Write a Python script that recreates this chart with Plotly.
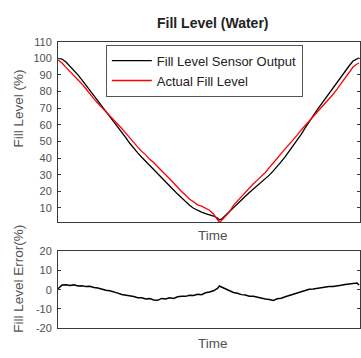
import plotly.graph_objects as go

# ---------------- data ----------------
time = list(range(0, 161, 4)) + [162] + list(range(164, 301, 4)) + [302]

sensor_output = [
    100.0, 99.6, 97.8, 95.3, 92.8, 90.1, 87.1, 84.0, 80.7, 77.4,
    74.3, 71.2, 68.1, 64.9, 61.7, 58.7, 55.6, 52.3, 48.9, 45.7,
    43.1, 40.5, 38.1, 35.7, 33.4, 31.0, 28.5, 26.0, 23.4, 20.8,
    18.3, 15.9, 13.6, 11.6, 9.8, 8.4, 7.4, 6.6, 5.9, 5.1, 3.9,
    2.8,
    3.2, 5.6, 8.0, 10.4, 12.6, 14.8, 17.0, 19.2, 21.3, 23.4,
    25.4, 27.4, 29.7, 32.3, 34.9, 37.8, 40.8, 44.0, 47.4, 50.8,
    54.3, 58.2, 62.0, 65.6, 69.0, 72.3, 75.7, 79.0, 82.3, 85.6,
    88.9, 92.2, 95.4, 98.4, 100.0,
    100.3,
]

actual_level = [
    99.0, 97.2, 94.6, 92.2, 89.9, 87.5, 84.6, 81.7, 78.4, 75.6,
    73.0, 70.5, 67.8, 65.6, 63.2, 60.4, 57.8, 55.0, 52.1, 49.0,
    46.6, 44.0, 41.9, 39.2, 37.3, 34.8, 32.6, 29.9, 27.5, 24.8,
    22.6, 19.9, 17.6, 15.2, 13.7, 11.8, 11.0, 9.7, 8.6, 6.3, 3.2,
    1.2,
    2.4, 5.3, 7.6, 11.5, 14.1, 16.9, 19.8, 22.1, 24.5, 26.7,
    28.9, 31.3, 34.2, 36.8, 39.9, 42.8, 45.4, 48.3, 50.9, 53.8,
    56.9, 59.6, 61.9, 64.9, 67.7, 70.1, 72.8, 75.6, 78.4, 81.5,
    84.8, 88.1, 91.6, 94.8, 96.6,
    97.2,
]

level_error = [
    0.5, 2.4, 2.6, 2.2, 2.5, 1.9, 2.1, 1.6, 1.8, 1.1,
    0.9, 0.2, -0.3, -0.6, -1.4, -1.8, -2.5, -2.8, -3.4, -3.6,
    -4.2, -4.3, -4.9, -4.7, -5.4, -5.6, -4.6, -4.9, -4.3, -4.6,
    -3.7, -3.4, -3.5, -2.9, -3.1, -2.4, -2.6, -1.6, -1.2, -0.6, 0.6,
    1.9,
    1.4, 0.4, -0.6, -1.5, -1.9, -2.6, -2.8, -3.4, -3.5, -4.1,
    -4.3, -4.9, -5.1, -5.6, -4.8, -4.5, -3.7, -3.1, -2.4, -1.9,
    -0.9, -0.6, 0.2, 0.4, 0.8, 1.0, 1.4, 1.6, 1.7, 2.2,
    2.3, 2.7, 3.0, 3.2, 3.5,
    2.4,
]

level_ticks = [10, 20, 30, 40, 50, 60, 70, 80, 90, 100, 110]
level_ticktext = ["10", "20", "30", "40", "50", "60", "70", "80", "90", "100", "110"]
error_ticks = [-20, -10, 0, 10, 20]
error_ticktext = ["-20", "-10", "0", "10", "20"]

# ---------------- figure ----------------
W, H = 361, 358
L = 58
FONT = "Liberation Sans, Arial, Helvetica, sans-serif"
AX = "#3a3a3a"
TXT = "#505050"


def px_x(x):
    return (x - L) / (W - L)


def px_y(y):
    return 1 - y / H


fig = go.Figure()
fig.add_trace(go.Scatter(x=time, y=sensor_output, mode="lines",
                         name="Fill Level Sensor Output",
                         line=dict(color="black", width=1.3),
                         xaxis="x", yaxis="y"))
fig.add_trace(go.Scatter(x=time, y=actual_level, mode="lines",
                         name="Actual Fill Level",
                         line=dict(color="#ff0000", width=1.3),
                         xaxis="x", yaxis="y"))
fig.add_trace(go.Scatter(x=time, y=level_error, mode="lines",
                         showlegend=False,
                         line=dict(color="black", width=1.5),
                         xaxis="x2", yaxis="y2"))

xcommon = dict(range=[0, 303], showticklabels=False, ticks="",
               showgrid=False, zeroline=False, showline=True,
               linecolor=AX, linewidth=1, mirror=True)
ycommon = dict(showgrid=False, zeroline=False, showline=True,
               linecolor=AX, linewidth=1, mirror="ticks",
               ticks="inside", ticklen=3, tickcolor=AX,
               tickfont=dict(family=FONT, size=11, color=TXT),
               ticklabelstandoff=3)

fig.update_layout(
    width=W, height=H,
    margin=dict(l=L, r=0, t=0, b=0),
    paper_bgcolor="white", plot_bgcolor="white",
    font=dict(family=FONT, color=TXT),
    xaxis=dict(domain=[0, 1], anchor="y", **xcommon),
    yaxis=dict(domain=[px_y(224), px_y(37)], anchor="x",
               range=[1.2, 110], tickvals=level_ticks,
               ticktext=level_ticktext, **ycommon),
    xaxis2=dict(domain=[0, 1], anchor="y2", **xcommon),
    yaxis2=dict(domain=[px_y(333), px_y(254)], anchor="x2",
                range=[-20, 20], tickvals=error_ticks,
                ticktext=error_ticktext, **ycommon),
    legend=dict(x=px_x(106), y=px_y(40), xanchor="left", yanchor="top",
                bgcolor="white", bordercolor="#555555", borderwidth=1,
                font=dict(family=FONT, size=13, color="#222222"),
                tracegroupgap=0, itemwidth=40),
    showlegend=True,
)

annots = [
    dict(text="<b>Fill Level (Water)</b>", x=px_x(214), y=px_y(18),
         size=14, color="#222222", angle=0),
    dict(text="Time", x=px_x(214), y=px_y(237), size=13.5, color=TXT, angle=0),
    dict(text="Time", x=px_x(214), y=px_y(349), size=13.5, color=TXT, angle=0),
    dict(text="Fill Level (%)", x=px_x(18), y=px_y(106), size=13.5, color=TXT, angle=-90),
    dict(text="Fill Level Error(%)", x=px_x(18), y=px_y(282), size=13.5, color=TXT, angle=-90),
]
for a in annots:
    fig.add_annotation(text=a["text"], x=a["x"], y=a["y"], xref="paper",
                       yref="paper", xanchor="center", yanchor="middle",
                       showarrow=False, textangle=a["angle"],
                       font=dict(family=FONT, size=a["size"], color=a["color"]))

fig.write_html(
    "out.html",
    config={"displayModeBar": False},
    post_script="document.body.style.margin='0';document.body.style.overflow='hidden';",
)
